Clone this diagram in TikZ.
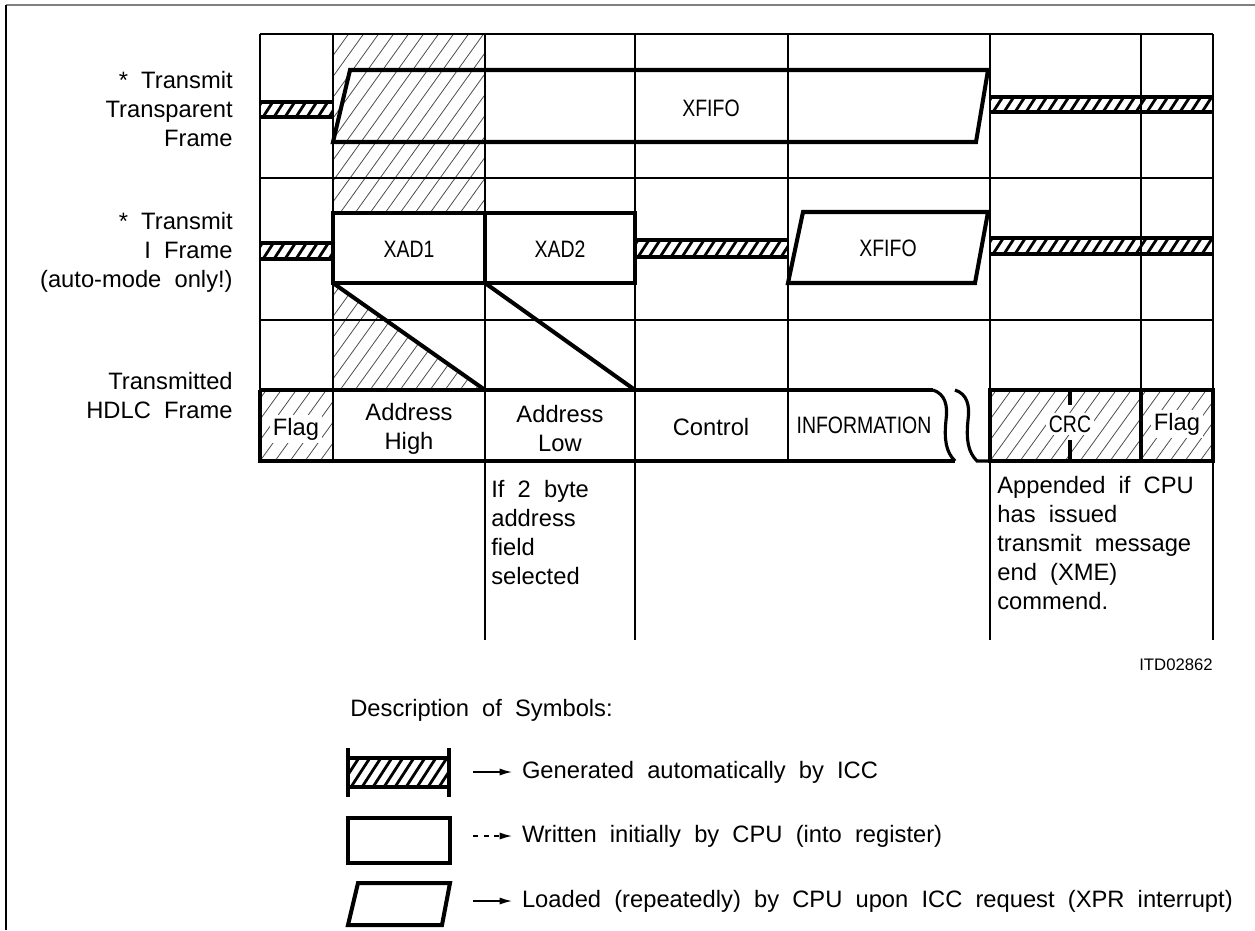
\documentclass[tikz,border=0pt]{standalone}
\usepackage{fontspec}
\setmainfont{Liberation Sans}[WordSpace=2]
\newfontfamily\capfont{Liberation Sans}[FakeStretch=0.82]
\usetikzlibrary{arrows.meta}

\tikzset{
  gridline/.style={line width=1.1pt},
  boxline/.style={line width=2.3pt},
  frameline/.style={line width=1.8pt},
  thinhatch/.style={line width=0.45pt, black!70},
  thickhatch/.style={line width=1.6pt},
  lbl/.style={font=\fontsize{13.5}{16.5}\selectfont, inner sep=0pt},
  cell/.style={lbl, align=center},
  capcell/.style={cell, font=\fontsize{13.5}{16.5}\selectfont\capfont},
  note/.style={lbl, align=left, anchor=north west},
}

% hatched bar: generated automatically by the ICC
\newcommand{\genbar}[4]{%
  \begin{scope}
    \clip (#1,#2) rectangle (#3,#4);
    \foreach \k in {0,...,26}
      \draw[thickhatch] ({#1-30+\k*11},#4) -- ({#1-30+\k*11+0.65*(#4-#2)},#2);
  \end{scope}
  \draw[frameline] (#1,#2) -- (#3,#2) (#1,#4) -- (#3,#4);}

\begin{document}
\begin{tikzpicture}[x=0.2mm, y=-0.2mm, >={Latex[length=7pt,width=4pt]}]
    \useasboundingbox (0,0) rectangle (1255,930);

    % 1. Page frame
    \draw[line width=0.8pt, black!50] (6,5) -- (1255,5);
    \draw[line width=1.2pt] (6,5) -- (6,930);

    % 2. Light hatching (automatic parts)
    \begin{scope}
        \clip (333,34) rectangle (485,213);
        \foreach \hx in {190,205,...,490} \draw[thinhatch] (\hx,213) -- ++(140,-195);
    \end{scope}
    \begin{scope}
        \clip (333,283) -- (485,390) -- (333,390) -- cycle;
        \foreach \hx in {250,265,...,490} \draw[thinhatch] (\hx,390) -- ++(80,-111);
    \end{scope}
    \begin{scope}
        \clip (260,390) rectangle (333,461);
        \foreach \hx in {200,215,...,335} \draw[thinhatch] (\hx,461) -- ++(52,-72);
    \end{scope}
    \begin{scope}
        \clip (990,390) rectangle (1213,461);
        \foreach \hx in {930,945,...,1215} \draw[thinhatch] (\hx,461) -- ++(52,-72);
    \end{scope}

    % 3. Grid
    \foreach \cx in {260,333,485,635,788,990,1141,1213}
        \draw[gridline] (\cx,34) -- (\cx,461);
    \foreach \cx in {485,635,990,1213}
        \draw[gridline] (\cx,461) -- (\cx,640);
    \foreach \ry in {34,178,320}
        \draw[gridline] (260,\ry) -- (1213,\ry);

    % 4. Generated bars
    \genbar{260}{102}{333}{117}
    \genbar{990}{97}{1213}{112}
    \genbar{260}{243}{333}{259}
    \genbar{635}{240}{788}{257}
    \genbar{990}{238}{1213}{254}

    % 5. Registers written by CPU
    \draw[boxline] (333,213) rectangle (485,283);
    \draw[boxline] (485,213) rectangle (635,283);
    \node[capcell] (xadA) at (409,249) {XAD1};
    \node[capcell] (xadB) at (560,249) {XAD2};

    % 6. FIFO loaded by CPU
    \draw[boxline] (333,142) -- (350,70) -- (988,70) -- (976,142) -- cycle;
    \node[capcell] (fifoA) at (711,108) {XFIFO};
    \draw[boxline] (788,283) -- (803,212) -- (988,212) -- (975,283) -- cycle;
    \node[capcell] (fifoB) at (888,248) {XFIFO};

    % 7. Shift into the frame
    \draw[boxline] (333,283) -- (485,390);
    \draw[boxline] (485,283) -- (635,390);

    % 8. Transmitted HDLC frame
    \draw[frameline] (260,390) -- (933,390) (260,461) -- (955,461);
    \draw[boxline] (333,461) -- (260,461) -- (260,390);
    \draw[frameline] (933,390) .. controls (945,394) and (948,405) .. (946,420)
        .. controls (944,440) and (946,452) .. (955,461);
    \draw[frameline] (955,390) .. controls (967,394) and (970,405) .. (968,420)
        .. controls (966,440) and (968,452) .. (977,461) -- (990,461);
    \draw[boxline] (990,390) rectangle (1213,461);
    \draw[boxline] (1141,390) -- (1141,461);
    \draw[boxline] (1070,390) -- (1070,405) (1070,440) -- (1070,461);
    \node[cell, fill=white, inner sep=1.5pt] (flagA) at (296,429) {Flag};
    \node[cell] (addrH) at (409,429) {Address\\High};
    \node[cell] (addrL) at (560,429) {Address\\Low};
    \node[cell] (ctrl) at (711,427) {Control};
    \node[capcell] (info) at (864,425) {INFORMATION};
    \node[capcell, fill=white, inner sep=1.5pt] (crc) at (1070,424) {CRC};
    \node[cell, fill=white, inner sep=1.5pt] (flagB) at (1177,424) {Flag};

    % 9. Row titles
    \node[lbl, align=right, anchor=east] (ttf) at (233,109) {* Transmit\\Transparent\\Frame};
    \node[lbl, align=right, anchor=east] (tif) at (233,252) {* Transmit\\I Frame\\(auto-mode only!)};
    \node[lbl, align=right, anchor=east] (thf) at (233,396) {Transmitted\\HDLC Frame};

    % 10. Notes below the frame
    \node[note] (addrnote) at (491,480) {If 2 byte\\address\\field\\selected};
    \node[note] (crcnote) at (997,476) {Appended if CPU\\has issued\\transmit message\\end (XME)\\commend.};
    \node[lbl, font=\fontsize{9.5}{11}\selectfont, anchor=east] (itd) at (1213,665) {ITD02862};

    % 11. Description of symbols
    \node[lbl, anchor=west] (desc) at (350,710) {Description of Symbols:};
    \genbar{348}{758}{449}{787}
    \draw[boxline] (348,748) -- (348,797) (449,748) -- (449,797);
    \draw[boxline] (348,818) rectangle (450,863);
    \draw[boxline] (358,883) -- (450,883) -- (442,925) -- (348,925) -- cycle;

    \coordinate (aGen) at (473,772);
    \coordinate (aWri) at (473,836);
    \coordinate (aLoa) at (473,901);
    \node[lbl, anchor=west, inner xsep=5.5pt] (tGen) at (512,772) {Generated automatically by ICC};
    \node[lbl, anchor=west, inner xsep=5.5pt] (tWri) at (512,836) {Written initially by CPU (into register)};
    \node[lbl, anchor=west, inner xsep=5.5pt] (tLoa) at (512,901) {Loaded (repeatedly) by CPU upon ICC request (XPR interrupt)};
    \draw[->, line width=0.8pt] (aGen) -- (tGen.west);
    \draw[->, line width=0.8pt, dashed] (aWri) -- (tWri.west);
    \draw[->, line width=0.8pt] (aLoa) -- (tLoa.west);
\end{tikzpicture}
\end{document}
